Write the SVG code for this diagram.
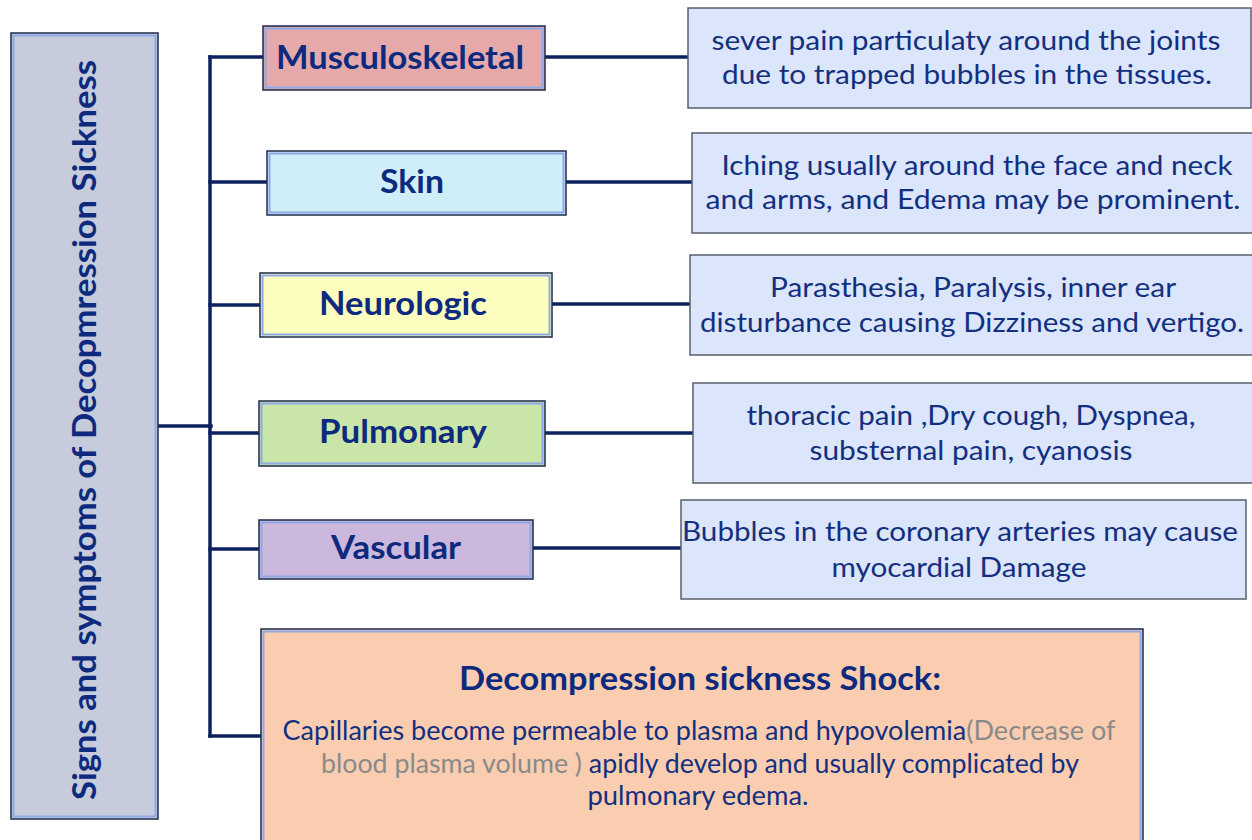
<svg xmlns="http://www.w3.org/2000/svg" width="1252" height="840" viewBox="0 0 1252 840">
<style>
.conn{stroke:#0b225e;stroke-width:3.5;fill:none;stroke-linecap:square}
.outer{stroke:#1c2a4a;stroke-width:1.5}
.inner{fill:none;stroke:#8ea8e6;stroke-width:2}
.desc{fill:#dbe5fb;stroke:#5a5f6a;stroke-width:1.5}
.title{font-family:Lato,"Open Sans",sans-serif;font-weight:bold;font-size:32px;fill:#0d2a7e;text-anchor:middle}
.dt{font-family:Lato,"Open Sans",sans-serif;font-size:27px;fill:#13307f;text-anchor:middle}
.st{font-family:Lato,"Open Sans",sans-serif;font-size:26px;fill:#13307f;text-anchor:middle}
.gray{fill:#8a8a8a}
</style>
<rect width="1252" height="840" fill="#ffffff"/>
<g id="connectors">
<line class="conn" x1="158" y1="426" x2="211" y2="426"/>
<line class="conn" x1="210" y1="57" x2="210" y2="736"/>
<line class="conn" x1="210" y1="57" x2="263" y2="57"/>
<line class="conn" x1="210" y1="182" x2="267" y2="182"/>
<line class="conn" x1="210" y1="305" x2="260" y2="305"/>
<line class="conn" x1="210" y1="433" x2="259" y2="433"/>
<line class="conn" x1="210" y1="549" x2="259" y2="549"/>
<line class="conn" x1="210" y1="736" x2="261" y2="736"/>
<line class="conn" x1="545" y1="57" x2="688" y2="57"/>
<line class="conn" x1="566" y1="182" x2="692" y2="182"/>
<line class="conn" x1="552" y1="304" x2="690" y2="304"/>
<line class="conn" x1="545" y1="433" x2="693" y2="433"/>
<line class="conn" x1="533" y1="548" x2="681" y2="548"/>
</g>
<g id="root">
<rect class="outer" x="11" y="33" width="147" height="786" fill="#c6ccdb"/>
<rect class="inner" x="13.5" y="35.5" width="142" height="781"/>
<text class="title" transform="translate(96,430) rotate(-90)" font-size="31" fill="#13308f" textLength="740" lengthAdjust="spacingAndGlyphs">Signs and symptoms of Decopmression Sickness</text>
</g>
<g id="musculoskeletal">
<rect class="outer" x="263" y="26" width="282" height="64" fill="#e6a9a9"/>
<rect class="inner" x="265.5" y="28.5" width="277" height="59"/>
<text class="title" x="400" y="69" textLength="248" lengthAdjust="spacingAndGlyphs">Musculoskeletal</text>
</g>
<g id="skin">
<rect class="outer" x="267" y="151" width="299" height="64" fill="#cfeef9"/>
<rect class="inner" x="269.5" y="153.5" width="294" height="59"/>
<text class="title" x="412" y="193" textLength="64" lengthAdjust="spacingAndGlyphs">Skin</text>
</g>
<g id="neurologic">
<rect class="outer" x="260" y="273" width="292" height="64" fill="#fdfdc0"/>
<rect class="inner" x="262.5" y="275.5" width="287" height="59"/>
<text class="title" x="403" y="315" textLength="168" lengthAdjust="spacingAndGlyphs">Neurologic</text>
</g>
<g id="pulmonary">
<rect class="outer" x="259" y="401" width="286" height="65" fill="#c9e5a8"/>
<rect class="inner" x="261.5" y="403.5" width="281" height="60"/>
<text class="title" x="403" y="443" textLength="168" lengthAdjust="spacingAndGlyphs">Pulmonary</text>
</g>
<g id="vascular">
<rect class="outer" x="259" y="520" width="274" height="59" fill="#ccb8dd"/>
<rect class="inner" x="261.5" y="522.5" width="269" height="54"/>
<text class="title" x="396" y="559" textLength="130" lengthAdjust="spacingAndGlyphs">Vascular</text>
</g>
<g id="desc-musculoskeletal">
<rect class="desc" x="688" y="8" width="563" height="100"/>
<text class="dt" x="966" y="50" textLength="509" lengthAdjust="spacingAndGlyphs">sever pain particulaty around the joints</text>
<text class="dt" x="967" y="84" textLength="490" lengthAdjust="spacingAndGlyphs">due to trapped bubbles in the tissues.</text>
</g>
<g id="desc-skin">
<rect class="desc" x="692" y="133" width="562" height="100"/>
<text class="dt" x="977" y="175" textLength="511" lengthAdjust="spacingAndGlyphs">Iching usually around the face and neck</text>
<text class="dt" x="973" y="209" textLength="535" lengthAdjust="spacingAndGlyphs">and arms, and Edema may be prominent.</text>
</g>
<g id="desc-neurologic">
<rect class="desc" x="690" y="255" width="564" height="100"/>
<text class="dt" x="973" y="297" textLength="406" lengthAdjust="spacingAndGlyphs">Parasthesia, Paralysis, inner ear</text>
<text class="dt" x="972" y="332" textLength="544" lengthAdjust="spacingAndGlyphs">disturbance causing Dizziness and vertigo.</text>
</g>
<g id="desc-pulmonary">
<rect class="desc" x="693" y="383" width="561" height="100"/>
<text class="dt" x="971" y="425" textLength="449" lengthAdjust="spacingAndGlyphs">thoracic pain ,Dry cough, Dyspnea,</text>
<text class="dt" x="971" y="460" textLength="323" lengthAdjust="spacingAndGlyphs">substernal pain, cyanosis</text>
</g>
<g id="desc-vascular">
<rect class="desc" x="681" y="500" width="565" height="99"/>
<text class="dt" x="960" y="541" textLength="556" lengthAdjust="spacingAndGlyphs">Bubbles in the coronary arteries may cause</text>
<text class="dt" x="959" y="577" textLength="255" lengthAdjust="spacingAndGlyphs">myocardial Damage</text>
</g>
<g id="shock">
<rect class="outer" x="261" y="629" width="882" height="220" fill="#fbcdb0"/>
<rect class="inner" x="263.5" y="631.5" width="877" height="220"/>
<text class="title" x="700" y="690" font-size="31" textLength="482" lengthAdjust="spacingAndGlyphs">Decompression sickness Shock:</text>
<text class="st" x="699" y="740" textLength="833" lengthAdjust="spacingAndGlyphs">Capillaries become permeable to plasma and hypovolemia<tspan class="gray">(Decrease of</tspan></text>
<text class="st" x="700" y="773" textLength="758" lengthAdjust="spacingAndGlyphs"><tspan class="gray">blood plasma volume )</tspan> apidly develop and usually complicated by</text>
<text class="st" x="698" y="805" textLength="221" lengthAdjust="spacingAndGlyphs">pulmonary edema.</text>
</g>
</svg>
